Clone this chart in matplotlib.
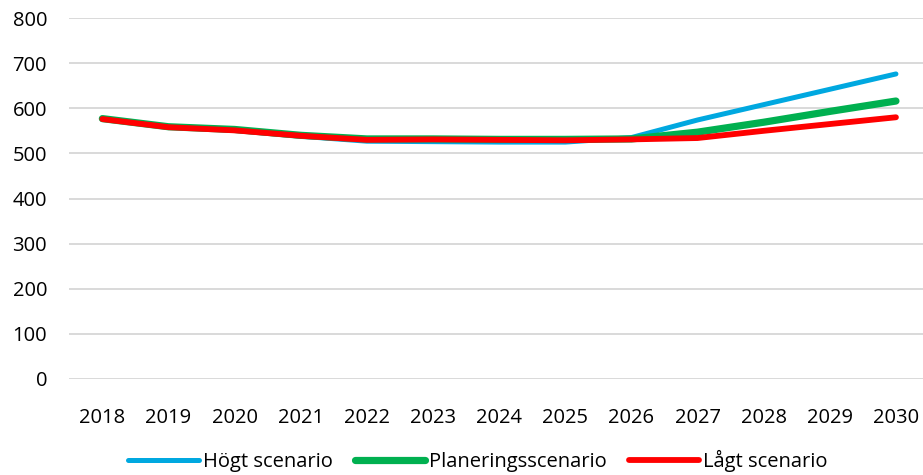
import matplotlib.pyplot as plt

# Data
years = ['2018', '2019', '2020', '2021', '2022', '2023', '2024',
         '2025', '2026', '2027', '2028', '2029', '2030']
hogt = [576, 558, 551, 538, 527, 526, 525, 525, 535, 574, 608, 642, 676]
planering = [577, 559, 553, 540, 532, 532, 531, 531, 532, 547, 569, 593, 616]
lagt = [576, 558, 551, 539, 530, 531, 530, 529, 531, 534, 550, 565, 580]

plt.rcParams['font.family'] = ['Open Sans', 'DejaVu Sans']

fig = plt.figure(figsize=(9.23, 4.75), dpi=100)
ax = fig.add_axes([69.3 / 923, (475 - 379) / 475, (929 - 69.3) / 923, 361 / 475])

x = range(len(years))
ax.plot(x, hogt, color='#00A8E0', lw=3.6, solid_capstyle='round', label='Högt scenario', zorder=3)
ax.plot(x, planering, color='#00B050', lw=5.2, solid_capstyle='round', label='Planeringsscenario', zorder=4)
ax.plot(x, lagt, color='#FF0000', lw=4.2, solid_capstyle='round', label='Lågt scenario', zorder=5)

ax.set_xlim(-0.5, len(years) - 0.5)
ax.set_ylim(0, 800)
ax.set_yticks(range(0, 801, 100))
ax.set_xticks(list(x))
ax.set_xticklabels(years)
ax.grid(axis='y', color='#D9D9D9', lw=1.4)
ax.set_axisbelow(True)
for s in ax.spines.values():
    s.set_visible(False)
ax.tick_params(axis='both', length=0, labelsize=14.5, colors='#000000')
ax.tick_params(axis='x', pad=21)
ax.tick_params(axis='y', pad=16)

fig.legend(loc='center', bbox_to_anchor=(478 / 923, 1 - 461 / 475), ncol=3, frameon=False,
           fontsize=14.5, handlelength=3.5, handletextpad=0.2, columnspacing=1.1)

fig.savefig('out.png', dpi=100)
